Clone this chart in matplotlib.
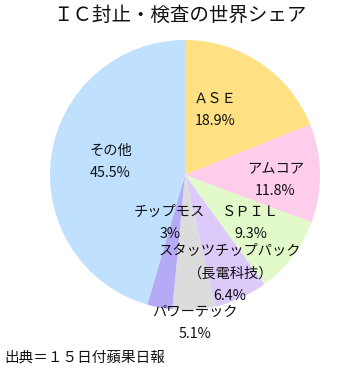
import numpy as np
import matplotlib.pyplot as plt

plt.rcParams['font.family'] = ['Noto Sans CJK JP', 'DejaVu Sans']

# data
names = ['ＡＳＥ', 'アムコア', 'ＳＰＩＬ', 'スタッツチップパック\n（長電科技）',
         'パワーテック', 'チップモス', 'その他']
shares = [18.9, 11.8, 9.3, 6.4, 5.1, 3.0, 45.5]
pct_text = ['18.9%', '11.8%', '9.3%', '6.4%', '5.1%', '3%', '45.5%']
colors = ['#ffe083', '#ffcdec', '#e2f9c9', '#dccafa', '#dcdcdc', '#b4aaf6', '#bfe0fe']

# label placement: radius fraction and angle shift (deg) from wedge middle
label_r = [0.53, 0.67, 0.60, 0.80, 1.10, 0.37, 0.56]
label_shift = [9, -4, 1, 0, 0, -7, -2]

my_dpi = 100
fig = plt.figure(figsize=(355/my_dpi, 372/my_dpi), dpi=my_dpi)
ax = fig.add_axes([50/355, 62/372, 270/355, 270/372])

wedges, _ = ax.pie(shares, colors=colors, startangle=90, counterclock=False,
                   wedgeprops=dict(linewidth=0))
ax.set_xlim(-1, 1)
ax.set_ylim(-1, 1)
ax.set_aspect('equal')
ax.axis('off')

for w, name, pct, r, sh in zip(wedges, names, pct_text, label_r, label_shift):
    ang = np.deg2rad((w.theta1 + w.theta2) / 2 + sh)
    x, y = r * np.cos(ang), r * np.sin(ang)
    ax.text(x, y, name + '\n' + pct, ha='center', va='center',
            fontsize=10.3, linespacing=1.75, color='#111111')

fig.text(0.508, 0.958, 'ＩＣ封止・検査の世界シェア', ha='center', va='center',
         fontsize=14, color='#111111')
fig.text(0.012, 0.04, '出典＝１５日付蘋果日報', ha='left', va='center',
         fontsize=10.5, color='#111111')

plt.savefig('out.png', dpi=my_dpi)
